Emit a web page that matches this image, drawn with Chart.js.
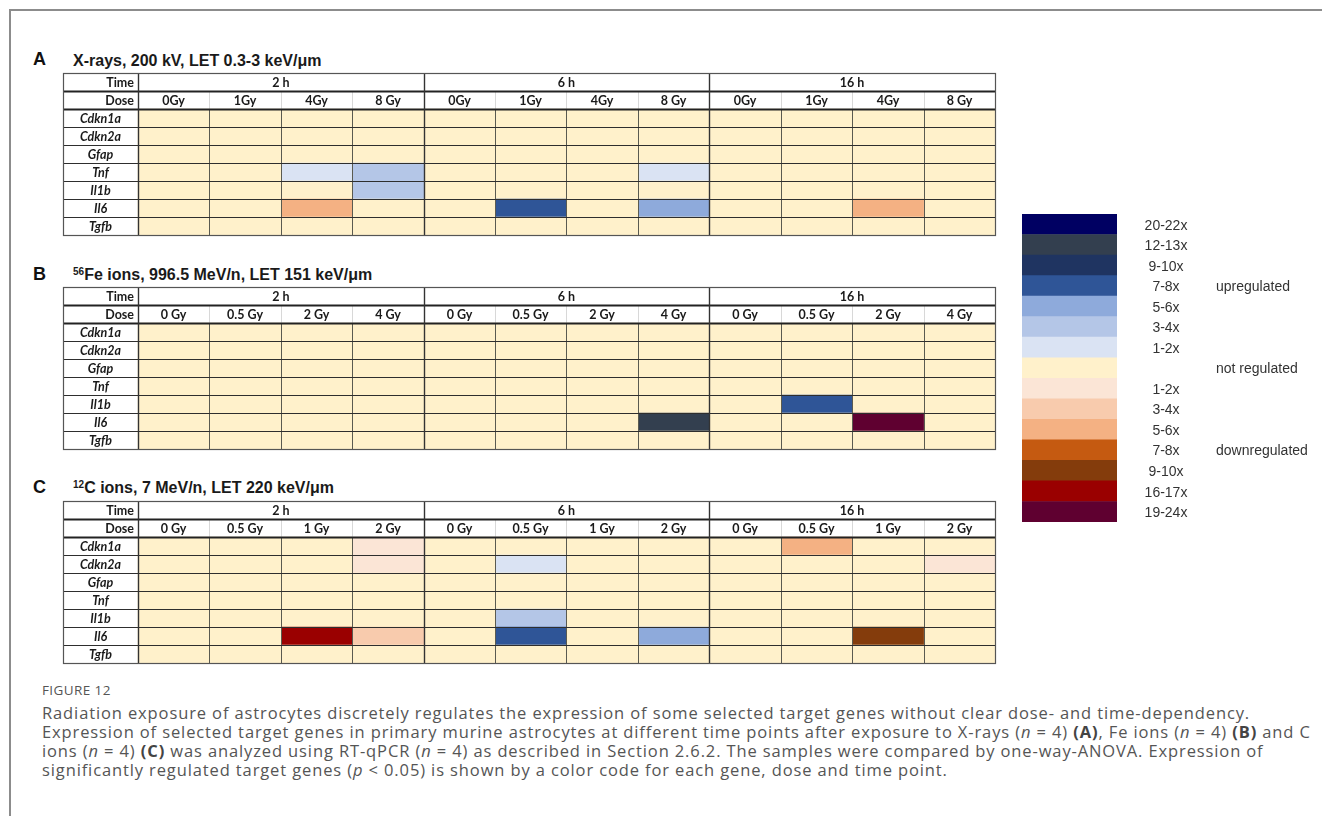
<!DOCTYPE html>
<html>
<head>
<meta charset="utf-8">
<script src="https://cdn.jsdelivr.net/npm/chart.js@4.4.1/dist/chart.umd.min.js"></script>
<style>
  body { margin: 0; background: #fff; width: 1322px; height: 816px; overflow: hidden; position: relative; font-family: 'Liberation Sans', Arial, sans-serif; }
  .frame { position: absolute; left: 9px; top: 9px; width: 1400px; height: 900px; border-left: 2px solid #8c8c8c; border-top: 2px solid #8c8c8c; }
  .letter { position: absolute; left: 33px; font-size: 18px; font-weight: bold; color: #111; line-height: 18px; }
  .title { position: absolute; left: 73px; font-size: 16px; font-weight: bold; color: #1a1a1a; line-height: 16px; white-space: nowrap; }
  .title sup { font-size: 10px; vertical-align: 5px; line-height: 0; }
  canvas { position: absolute; }
  .figlabel { position: absolute; left: 42px; top: 682px; font-family: 'Open Sans', sans-serif; font-size: 13.5px; letter-spacing: 0.4px; color: #555; line-height: 16px; }
  .caption { position: absolute; left: 42px; top: 703px; font-family: 'Open Sans', sans-serif; font-size: 16.5px; letter-spacing: 0.88px; color: #555; line-height: 19px; white-space: nowrap; }
  .caption b { color: #444; }
</style>
</head>
<body>
<div class="frame"></div>

<div class="letter" style="top:50px">A</div>
<div class="title" style="top:53px">X-rays, 200 kV, LET 0.3-3 keV/μm</div>
<canvas id="panelA" width="942" height="172" style="left:58px;top:68px"></canvas>

<div class="letter" style="top:265px">B</div>
<div class="title" style="top:267px"><sup>56</sup>Fe ions, 996.5 MeV/n, LET 151 keV/μm</div>
<canvas id="panelB" width="942" height="172" style="left:58px;top:282px"></canvas>

<div class="letter" style="top:478px">C</div>
<div class="title" style="top:480px"><sup>12</sup>C ions, 7 MeV/n, LET 220 keV/μm</div>
<canvas id="panelC" width="942" height="172" style="left:58px;top:496px"></canvas>

<canvas id="legend" width="305" height="318" style="left:1017px;top:209px"></canvas>

<div class="figlabel">FIGURE 12</div>
<div class="caption">Radiation exposure of astrocytes discretely regulates the expression of some selected target genes without clear dose- and time-dependency.<br>Expression of selected target genes in primary murine astrocytes at different time points after exposure to X-rays (<i>n</i> = 4) <b>(A)</b>, Fe ions (<i>n</i> = 4) <b>(B)</b> and C<br>ions (<i>n</i> = 4) <b>(C)</b> was analyzed using RT-qPCR (<i>n</i> = 4) as described in Section 2.6.2. The samples were compared by one-way-ANOVA. Expression of<br>significantly regulated target genes (<i>p</i> &lt; 0.05) is shown by a color code for each gene, dose and time point.</div>

<script>
// rows and columns of the three tables
const genes = ['Cdkn1a', 'Cdkn2a', 'Gfap', 'Tnf', 'Il1b', 'Il6', 'Tgfb'];
const times = ['2 h', '6 h', '16 h'];
const dosesXray = ['0Gy', '1Gy', '4Gy', '8 Gy'];
const dosesFe = ['0 Gy', '0.5 Gy', '2 Gy', '4 Gy'];
const dosesC = ['0 Gy', '0.5 Gy', '1 Gy', '2 Gy'];

// regulation level per gene (rows) and time/dose (12 columns)
// 0 = not regulated, +n = upregulated class n, -n = downregulated class n
const levelsXray = [
    [0, 0, 0, 0, 0, 0, 0, 0, 0, 0, 0, 0],
    [0, 0, 0, 0, 0, 0, 0, 0, 0, 0, 0, 0],
    [0, 0, 0, 0, 0, 0, 0, 0, 0, 0, 0, 0],
    [0, 0, 1, 2, 0, 0, 0, 1, 0, 0, 0, 0],
    [0, 0, 0, 2, 0, 0, 0, 0, 0, 0, 0, 0],
    [0, 0, -3, 0, 0, 4, 0, 3, 0, 0, -3, 0],
    [0, 0, 0, 0, 0, 0, 0, 0, 0, 0, 0, 0]
];
const levelsFe = [
    [0, 0, 0, 0, 0, 0, 0, 0, 0, 0, 0, 0],
    [0, 0, 0, 0, 0, 0, 0, 0, 0, 0, 0, 0],
    [0, 0, 0, 0, 0, 0, 0, 0, 0, 0, 0, 0],
    [0, 0, 0, 0, 0, 0, 0, 0, 0, 0, 0, 0],
    [0, 0, 0, 0, 0, 0, 0, 0, 0, 4, 0, 0],
    [0, 0, 0, 0, 0, 0, 0, 6, 0, 0, -7, 0],
    [0, 0, 0, 0, 0, 0, 0, 0, 0, 0, 0, 0]
];
const levelsC = [
    [0, 0, 0, -1, 0, 0, 0, 0, 0, -3, 0, 0],
    [0, 0, 0, -1, 0, 1, 0, 0, 0, 0, 0, -1],
    [0, 0, 0, 0, 0, 0, 0, 0, 0, 0, 0, 0],
    [0, 0, 0, 0, 0, 0, 0, 0, 0, 0, 0, 0],
    [0, 0, 0, 0, 0, 2, 0, 0, 0, 0, 0, 0],
    [0, 0, -6, -2, 0, 4, 0, 3, 0, 0, -5, 0],
    [0, 0, 0, 0, 0, 0, 0, 0, 0, 0, 0, 0]
];

// colour key
const legendLevels = [7, 6, 5, 4, 3, 2, 1, 0, -1, -2, -3, -4, -5, -6, -7];
const legendLabels = ['20-22x', '12-13x', '9-10x', '7-8x', '5-6x', '3-4x', '1-2x', '', '1-2x', '3-4x', '5-6x', '7-8x', '9-10x', '16-17x', '19-24x'];
const legendGroups = { 4: 'upregulated', 0: 'not regulated', '-4': 'downregulated' };

const upColors = ['#dae3f3', '#b4c6e7', '#8eaadb', '#2f5597', '#1f3461', '#333f4f', '#000062'];
const downColors = ['#fbe5d6', '#f8cbad', '#f4b183', '#c55a11', '#843c0c', '#9a0000', '#5f0030'];
const neutralColor = '#fff1cb';

function levelColor(v) {
    if (v > 0) return upColors[v - 1];
    if (v < 0) return downColors[-v - 1];
    return neutralColor;
}

const LABEL_COL = 75 / 71.42; // width of the gene column in data-column units

// grid lines and header text of a table
const tablePlugin = {
    id: 'table',
    afterDatasetsDraw(chart, args, opts) {
        const { ctx, scales: { x, y } } = chart;
        const rowH = y.getPixelForValue(1) - y.getPixelForValue(0);
        const rowTop = r => Math.round(y.getPixelForValue(r) - rowH / 2);
        const colX = c => Math.round(x.getPixelForValue(c));
        const left = colX(-LABEL_COL), right = colX(12);
        const top = rowTop(0), bottom = rowTop(9);

        ctx.save();
        const hLine = (yy, color, w) => {
            ctx.strokeStyle = color; ctx.lineWidth = w;
            ctx.beginPath(); ctx.moveTo(left, yy + 0.5); ctx.lineTo(right, yy + 0.5); ctx.stroke();
        };
        const vLine = (xx, y0, y1, color, w) => {
            ctx.strokeStyle = color; ctx.lineWidth = w;
            ctx.beginPath(); ctx.moveTo(xx + 0.5, y0); ctx.lineTo(xx + 0.5, y1); ctx.stroke();
        };

        // inner column lines
        for (let c = 1; c < 12; c++) {
            if (c % 4 === 0) continue;
            vLine(colX(c), rowTop(1), rowTop(2), '#d8d8d8', 1);
            vLine(colX(c), rowTop(2), bottom, '#5a5a50', 1);
        }
        // gene row lines
        for (let r = 3; r < 9; r++) hLine(rowTop(r), '#2e2e2e', 1.2);
        hLine(rowTop(1), '#222', 1.8);
        hLine(rowTop(2), '#222', 1.8);
        // group separators
        vLine(colX(0), top, bottom, '#333', 1.4);
        vLine(colX(4), top, bottom, '#333', 1.4);
        vLine(colX(8), top, bottom, '#333', 1.4);
        // outer border
        ctx.strokeStyle = '#555'; ctx.lineWidth = 1.2;
        ctx.strokeRect(left + 0.5, top + 0.5, right - left, bottom - top);

        // texts
        ctx.fillStyle = '#1a1a1a';
        ctx.textBaseline = 'middle';
        ctx.font = 'bold 12.5px Lato';
        ctx.textAlign = 'right';
        ctx.fillText('Time', colX(0) - 4, y.getPixelForValue(0) + 1);
        ctx.fillText('Dose', colX(0) - 4, y.getPixelForValue(1) + 1);
        ctx.textAlign = 'center';
        opts.times.forEach((t, g) => {
            ctx.fillText(t, (colX(g * 4) + colX(g * 4 + 4)) / 2, y.getPixelForValue(0) + 1);
        });
        for (let c = 0; c < 12; c++) {
            ctx.fillText(opts.doses[c % 4], (colX(c) + colX(c + 1)) / 2, y.getPixelForValue(1) + 1);
        }
        ctx.font = 'italic bold 12.5px Lato';
        opts.genes.forEach((g, i) => {
            ctx.fillText(g, (left + colX(0)) / 2, y.getPixelForValue(i + 2) + 1);
        });
        ctx.restore();
    }
};

function dibujarTabla(canvasId, doses, levels) {
    const rowLabels = ['Time', 'Dose', ...genes];
    const datasets = [];
    for (let c = 0; c < 12; c++) {
        datasets.push({
            data: rowLabels.map((_, r) => r < 2 ? null : [c, c + 1]),
            backgroundColor: rowLabels.map((_, r) => r < 2 ? 'rgba(0,0,0,0)' : levelColor(levels[r - 2][c])),
            borderWidth: 0,
            borderSkipped: false,
            grouped: false,
            barPercentage: 1,
            categoryPercentage: 1
        });
    }
    return new Chart(document.getElementById(canvasId), {
        type: 'bar',
        data: { labels: rowLabels, datasets },
        options: {
            indexAxis: 'y',
            responsive: false,
            animation: false,
            devicePixelRatio: 1,
            layout: { padding: 5 },
            scales: {
                x: { type: 'linear', min: -LABEL_COL, max: 12, display: false },
                y: { type: 'category', display: false }
            },
            plugins: {
                legend: { display: false },
                tooltip: { enabled: false },
                table: { times, doses, genes }
            }
        },
        plugins: [tablePlugin]
    });
}

dibujarTabla('panelA', dosesXray, levelsXray);
dibujarTabla('panelB', dosesFe, levelsFe);
dibujarTabla('panelC', dosesC, levelsC);

// colour key with its labels
const legendPlugin = {
    id: 'keyLabels',
    afterDatasetsDraw(chart) {
        const { ctx, chartArea, scales: { y } } = chart;
        ctx.save();
        ctx.fillStyle = '#333';
        ctx.font = '14px "Liberation Sans", Arial';
        ctx.textBaseline = 'middle';
        legendLevels.forEach((lv, i) => {
            const yy = y.getPixelForValue(i) + 1.5;
            ctx.textAlign = 'center';
            if (legendLabels[i]) ctx.fillText(legendLabels[i], chartArea.right + 49, yy);
            if (legendGroups[lv]) {
                ctx.textAlign = 'left';
                ctx.fillText(legendGroups[lv], chartArea.right + 99, yy);
            }
        });
        ctx.restore();
    }
};

new Chart(document.getElementById('legend'), {
    type: 'bar',
    data: {
        labels: legendLevels.map(String),
        datasets: [{
            data: legendLevels.map(() => [0, 1]),
            backgroundColor: legendLevels.map(levelColor),
            borderWidth: 0,
            borderSkipped: false,
            barPercentage: 1,
            categoryPercentage: 1
        }]
    },
    options: {
        indexAxis: 'y',
        responsive: false,
        animation: false,
        devicePixelRatio: 1,
        layout: { padding: { left: 5, top: 5, bottom: 5, right: 205 } },
        scales: {
            x: { type: 'linear', min: 0, max: 1, display: false },
            y: { type: 'category', display: false }
        },
        plugins: { legend: { display: false }, tooltip: { enabled: false } }
    },
    plugins: [legendPlugin]
});
</script>
</body>
</html>
